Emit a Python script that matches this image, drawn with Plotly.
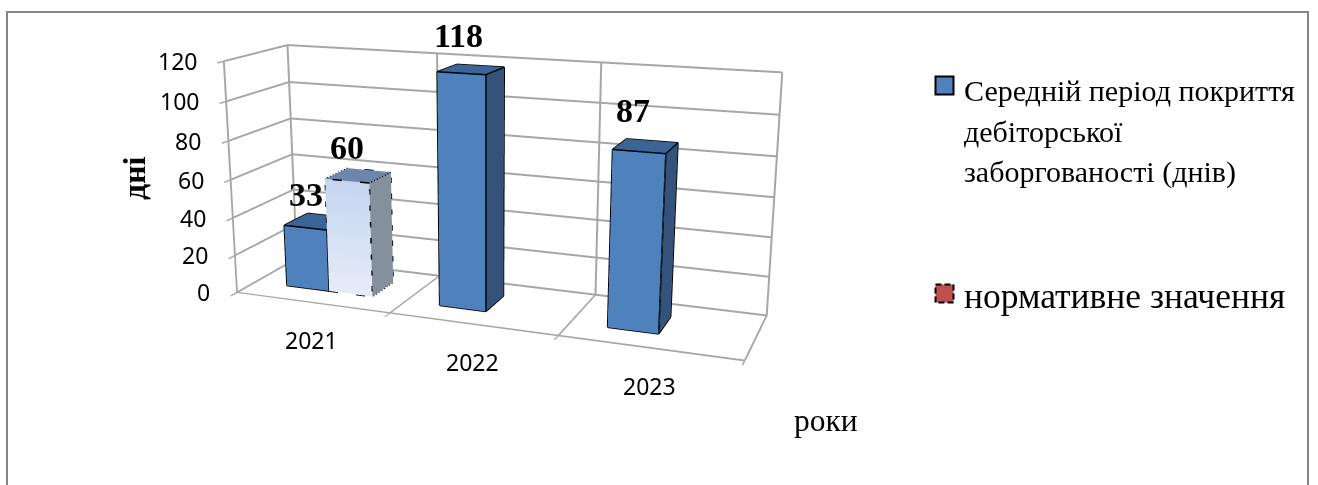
import plotly.graph_objects as go

categories = ["2021", "2022", "2023"]
series_main = [33, 118, 87]
series_norm = [60, None, None]
z_ticks = [0, 20, 40, 60, 80, 100, 120]

W, H, TOP_OFFSET = 1318, 1039, 299
EYE = (1.125, -3.003, 0.814)
CENTER = (-0.003, -0.048, -0.076)
HALF = (0.702, 0.168, 0.322)
CX, TILT = 487.632, 0.003

FRONT = "#4f81bd"; SIDE = "#35537a"; TOPC = "#3b6596"
GRID = "#a6a6a6"; SERIF = "Liberation Serif"; SANS = "Noto Sans"

def px(x): return x / W
def py(y): return 1 - (y + TOP_OFFSET) / H

def box(x0, x1, y0, y1, z1, cf_bot, cf_top, cs, ct):
    fr = [(x0, y0, 0), (x1, y0, 0), (x1, y0, z1), (x0, y0, z1)]
    si = [(x1, y0, 0), (x1, y1, 0), (x1, y1, z1), (x1, y0, z1)]
    to = [(x0, y0, z1), (x1, y0, z1), (x1, y1, z1), (x0, y1, z1)]
    V = fr + si + to
    C = [cf_bot, cf_bot, cf_top, cf_top] + [cs] * 4 + [ct] * 4
    I = []; J = []; K = []
    for s in (0, 4, 8):
        I += [s, s]; J += [s + 1, s + 2]; K += [s + 2, s + 3]
    return go.Mesh3d(x=[v[0] for v in V], y=[v[1] for v in V], z=[v[2] for v in V], i=I, j=J, k=K, vertexcolor=C,
                     flatshading=True, lighting=dict(ambient=1, diffuse=0, specular=0, fresnel=0, roughness=1),
                     hoverinfo='skip', showscale=False)

def edges(x0, x1, y0, y1, z1, dash):
    segs = [((x0, y0, 0), (x1, y0, 0)), ((x1, y0, 0), (x1, y1, 0)), ((x1, y1, 0), (x1, y1, z1)), ((x1, y0, 0), (x1, y0, z1)),
            ((x0, y0, 0), (x0, y0, z1)), ((x0, y0, z1), (x1, y0, z1)), ((x1, y0, z1), (x1, y1, z1)),
            ((x1, y1, z1), (x0, y1, z1)), ((x0, y1, z1), (x0, y0, z1))]
    X = []; Y = []; Z = []
    for a, b in segs:
        X += [a[0], b[0], None]; Y += [a[1], b[1], None]; Z += [a[2], b[2], None]
    return go.Scatter3d(x=X, y=Y, z=Z, mode='lines', line=dict(color='#000000', width=3, dash=dash),
                        hoverinfo='skip', showlegend=False)

BW = 1 / 3.5; START = .75 / 3.5; Y0, Y1 = .3, .7
fig = go.Figure()
for i, v in enumerate(series_main):
    a = i + START; b = a + BW
    fig.add_trace(box(a, b, Y0, Y1, v, FRONT, FRONT, SIDE, TOPC))
    fig.add_trace(edges(a, b, Y0, Y1, v, 'solid'))
for i, v in enumerate(series_norm):
    if v is None:
        continue
    a = i + START + BW; b = a + BW
    fig.add_trace(box(a, b, Y0, Y1, v, "#e6ecf8", "#c5d5ef", "#85909f", "#6d86ad"))
    fig.add_trace(edges(a, b, Y0, Y1, v, 'dash'))

def ax(**k):
    d = dict(showbackground=False, showspikes=False, zeroline=False, showline=False, gridcolor=GRID, gridwidth=4,
             title=dict(text=''), ticks='outside', tickcolor=GRID, ticklen=10, tickwidth=3)
    d.update(k)
    return d

ann = []
for i, c in enumerate(categories):
    ann.append(dict(x=i + .5, y=0, z=0, text=c, showarrow=False, yshift=-38, font=dict(family=SANS, size=23, color='#000')))
for t in z_ticks:
    ann.append(dict(x=0, y=0, z=t, text=str(t), showarrow=False, xanchor='right', xshift=-25,
                    font=dict(family=SANS, size=23, color='#000')))
bold = dict(family=SERIF, size=34, color='#000', weight='bold')
main_shift = [(-11, 27), (-13, 34), (-13, 36)]
for i, v in enumerate(series_main):
    ann.append(dict(x=i + START + BW / 2, y=.5, z=v, text=str(v), showarrow=False,
                    xshift=main_shift[i][0], yshift=main_shift[i][1], font=bold))
ann.append(dict(x=START + BW * 1.5, y=.5, z=series_norm[0], text=str(series_norm[0]), showarrow=False,
                xshift=-11, yshift=28, font=bold))

half = CX
fig.update_layout(width=W, height=H, margin=dict(l=0, r=0, t=0, b=0), paper_bgcolor='white', showlegend=False,
    scene=dict(domain=dict(x=[(CX - half) / W, (CX + half) / W], y=[0, 1]),
               aspectmode='manual', aspectratio=dict(x=2 * HALF[0], y=2 * HALF[1], z=2 * HALF[2]),
               camera=dict(eye=dict(x=EYE[0], y=EYE[1], z=EYE[2]), center=dict(x=CENTER[0], y=CENTER[1], z=CENTER[2]),
                           up=dict(x=TILT, y=0, z=1)),
               xaxis=ax(range=[0, 3], tickvals=[0, 1, 2, 3], showticklabels=False),
               yaxis=ax(range=[0, 1], tickvals=[0, 1], showticklabels=False, ticks=''),
               zaxis=ax(range=[0, 120], tickvals=z_ticks, showticklabels=False),
               annotations=ann))

def txt(x, y, t, size, **k):
    fig.add_annotation(xref='paper', yref='paper', x=px(x), y=py(y), text=t, showarrow=False,
                       xanchor=k.pop('xanchor', 'left'), yanchor='middle',
                       font=dict(family=SERIF, size=size, color='#000', weight=k.pop('weight', 'normal')), **k)

txt(962, 90, "Середній період покриття", 30)
txt(962, 132, "дебіторської", 30)
txt(962, 172, "заборгованості (днів)", 30)
txt(962, 296, "нормативне значення", 35.5)
txt(134, 178, "дні", 32, weight='bold', textangle=-90, xanchor='center')
txt(826, 420, "роки", 31.5, xanchor='center')

def rect(x0, x1, y0, y1, **k):
    fig.add_shape(type='rect', xref='paper', yref='paper', x0=px(x0), x1=px(x1), y0=py(y0), y1=py(y1), **k)

rect(935.5, 953.5, 76.5, 94.5, fillcolor=FRONT, line=dict(color='#000', width=2))
rect(935.5, 953.5, 284.5, 302.5, fillcolor='#c0504d', line=dict(color='#000', width=2, dash='6px,3px'))
rect(7, 1308, 12, 700, fillcolor='rgba(0,0,0,0)', line=dict(color='#868686', width=2))

fig.write_html("out.html", config=dict(displayModeBar=False),
               post_script="document.body.style.margin='0';document.body.style.marginTop='-%dpx';"
                           "document.documentElement.style.overflow='hidden';document.body.style.overflow='hidden';" % TOP_OFFSET)
